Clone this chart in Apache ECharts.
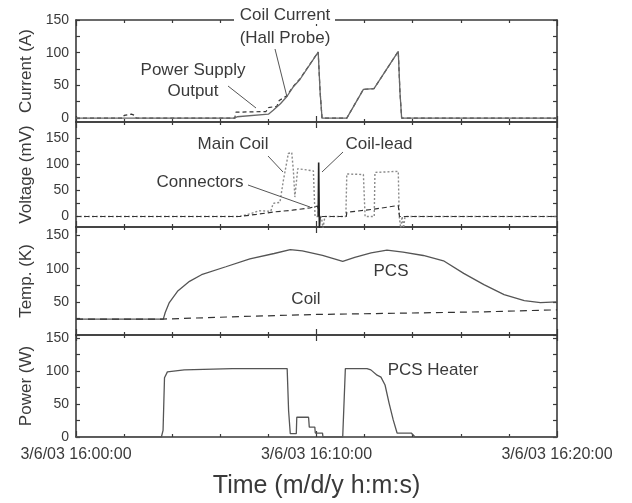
<!DOCTYPE html>
<html>
<head>
<meta charset="utf-8">
<script src="https://cdn.jsdelivr.net/npm/echarts@6/dist/echarts.min.js"></script>
<style>
  html, body { margin: 0; padding: 0; background: #fff; }
  #chart { width: 632px; height: 503px; }
</style>
</head>
<body>
<div id="chart"></div>
<script>
// minutes after 3/6/03 16:00:00
const xTicks = [0, 10, 20];

// Current panel (A)
const currT = [0, 6.6, 6.7, 8.0, 8.2, 8.5, 8.77, 9.02, 9.31, 10.07, 10.15, 10.23, 11.26, 11.95, 12.39, 13.40, 13.47, 13.54, 20];
const coilCurrent = [0, 0, 2, 6, 12, 22, 33, 47, 59, 101, 40, 0, 0, 44, 45, 102, 40, 0, 0];
const psT = [0, 1.95, 2.0, 2.3, 2.45, 2.5, 6.6, 6.65, 7.9, 8.0, 8.35, 8.45, 8.77, 9.02, 9.31, 10.07, 10.15, 10.23, 11.26, 11.95, 12.39, 13.40, 13.47, 13.54, 20];
const psCurrent = [0, 0, 4, 6, 4, 0, 0, 9, 10, 16, 18, 27, 34, 48, 60, 101, 40, 0, 0, 44, 45, 102, 40, 0, 0];

// Voltage panel (mV)
const mainT = [0, 6.8, 7.3, 7.6, 8.1, 8.2, 8.48, 8.62, 8.83, 8.97, 9.04, 9.10, 9.22, 9.87, 9.94, 10.2, 10.27, 10.35, 11.22, 11.26, 11.95, 12.02, 12.40, 12.43, 13.40, 13.44, 13.50, 13.56, 13.62, 13.68, 20];
const mainCoilV = [0, 0, 6, 11, 10, 25, 27, 68, 120, 122, 87, 37, 91, 87, 0, 0, -22, 0, 0, 81, 80, 0, 0, 84, 86, 0, -22, 0, -22, 0, 0];
const leadT = [10.07, 10.09, 10.12, 10.15];
const leadV = [0, 103, -22, 0];
const connT = [0, 6.8, 7.5, 8.3, 9.0, 9.73, 10.05, 10.1, 11.24, 11.26, 12.4, 13.40, 13.45, 20];
const connV = [0, 0, 4, 9, 12, 16.5, 20, 0, 0, 8, 14, 21, 0, 0];

// Temperature panel (K)
const pcsT = [0, 3.63, 3.71, 3.88, 4.22, 4.72, 5.22, 6.23, 7.23, 8.24, 8.91, 9.41, 10.25, 11.09, 11.59, 12.27, 12.93, 13.6, 14.44, 15.28, 16.12, 16.96, 17.8, 18.64, 19.31, 20];
const pcsTemp = [24, 24, 34, 49, 66, 81, 91, 103, 115, 123, 129, 127, 120, 111, 117, 124, 128, 125, 120, 112, 93, 76, 61, 52, 49, 50];
const coilTempT = [0, 3.6, 7.0, 10.0, 13.6, 17.0, 20];
const coilTemp = [24, 24, 28, 31, 33, 35, 38];

// Power panel (W)
const heatT = [0, 3.55, 3.62, 3.68, 3.8, 4.5, 6.5, 8.78, 8.84, 8.91, 9.16, 9.18, 9.67, 9.7, 9.93, 9.95, 10.25, 10.27, 11.09, 11.2, 12.1, 12.26, 12.52, 12.68, 12.85, 13.02, 13.19, 13.35, 13.94, 14.1, 20];
const heaterP = [0, 0, 10, 90, 99, 102, 104, 104, 40, 5, 5, 30, 30, 15, 15, 6, 6, 0, 0, 104, 104, 102, 94, 91, 79, 51, 26, 6, 6, 0, 0];

const yLabels = [0, 50, 100, 150];
const yLabelsTemp = [50, 100, 150];
const yTicks = [0, 25, 50, 75, 100, 125, 150];

const zip = (xs, ys) => xs.map((x, i) => [x, ys[i]]);

const FONT = '"Liberation Sans", Arial, sans-serif';
const INK = '#3a3a3a';

// panel layout: [top, height, yMin, yMax, name, labels]
const panels = [
  [20, 102, -6, 150, 'Current (A)', yLabels],
  [122, 105, -20, 180, 'Voltage (mV)', yLabels],
  [227, 108, 0, 163, 'Temp. (K)', yLabelsTemp],
  [335, 102, 0, 155, 'Power (W)', yLabels]
];

const grid = [], xAxis = [], yAxis = [];
panels.forEach((p, i) => {
  grid.push({ left: 76, right: 75, top: p[0], height: p[1] });
  const last = i === panels.length - 1;
  ['bottom', 'top'].forEach(pos => {
    xAxis.push({
      type: 'value', gridIndex: i, position: pos, min: 0, max: 20, interval: 10,
      axisLine: { show: true, onZero: false, lineStyle: { color: INK, width: 1.6 } },
      axisTick: { inside: true, length: 6, lineStyle: { color: INK, width: 1.2 } },
      minorTick: { show: true, splitNumber: 5, length: 3, lineStyle: { color: INK, width: 1.2 } },
      axisLabel: {
        show: last && pos === 'bottom', margin: 10, fontSize: 16, fontFamily: FONT, color: INK,
        formatter: v => xTicks.includes(v) ? '3/6/03 16:' + String(v).padStart(2, '0') + ':00' : ''
      },
      splitLine: { show: false },
      name: last && pos === 'bottom' ? 'Time (m/d/y h:m:s)' : '',
      nameLocation: 'middle', nameGap: 37,
      nameTextStyle: { fontSize: 25, fontFamily: FONT, color: INK }
    });
  });
  ['left', 'right'].forEach(pos => {
    yAxis.push({
      type: 'value', gridIndex: i, position: pos, min: p[2], max: p[3],
      axisLine: { show: true, onZero: false, lineStyle: { color: INK, width: 1.6 } },
      axisTick: { show: true, inside: true, length: 4, customValues: yTicks, lineStyle: { color: INK, width: 1.2 } },
      axisLabel: { show: pos === 'left', customValues: p[5], margin: 7, fontSize: 14, fontFamily: FONT, color: INK },
      splitLine: { show: false },
      name: pos === 'left' ? p[4] : '',
      nameLocation: 'middle', nameGap: 31, nameRotate: 90,
      nameTextStyle: { fontSize: 17, fontFamily: FONT, color: INK }
    });
  });
});

function line(data, i, color, width, type) {
  return {
    type: 'line', data, xAxisIndex: 2 * i, yAxisIndex: 2 * i,
    showSymbol: false, clip: true, animation: false,
    lineStyle: { color, width, type }
  };
}

const series = [
  line(zip(psT, psCurrent), 0, '#333', 1.2, [4, 3]),
  line(zip(currT, coilCurrent), 0, '#666', 1.3, 'solid'),
  line(zip(mainT, mainCoilV), 1, '#8a8a8a', 1.4, [2, 2]),
  line(zip(connT, connV), 1, '#333', 1.2, [5, 3]),
  line(zip(leadT, leadV), 1, '#222', 1.6, 'solid'),
  line(zip(pcsT, pcsTemp), 2, '#555', 1.3, 'solid'),
  line(zip(coilTempT, coilTemp), 2, '#333', 1.2, [7, 5]),
  line(zip(heatT, heaterP), 3, '#555', 1.3, 'solid')
];

function txt(text, x, y) {
  return { type: 'text', z: 101, style: { text, x, y, align: 'center', verticalAlign: 'middle', font: '17px ' + FONT, fill: INK } };
}
function lead(x1, y1, x2, y2) {
  return { type: 'line', z: 101, shape: { x1, y1, x2, y2 }, style: { stroke: '#555', lineWidth: 1 } };
}

const graphic = [
  { type: 'rect', z: 100, shape: { x: 234, y: 8, width: 101, height: 16 }, style: { fill: '#fff' } },
  txt('Coil Current', 285, 15),
  txt('(Hall Probe)', 285, 38),
  lead(275, 49, 287, 97),
  txt('Power Supply', 193, 70),
  txt('Output', 193, 91),
  lead(228, 86, 256, 108),
  txt('Main Coil', 233, 144),
  lead(268, 156, 283, 172),
  txt('Connectors', 200, 182),
  lead(248, 185, 310, 207),
  txt('Coil-lead', 379, 144),
  lead(343, 152, 322, 172),
  txt('PCS', 391, 271),
  txt('Coil', 306, 299),
  txt('PCS Heater', 433, 370)
];

const chart = echarts.init(document.getElementById('chart'), null, { renderer: 'canvas' });
chart.setOption({ animation: false, backgroundColor: '#fff', grid, xAxis, yAxis, series, graphic });
</script>
</body>
</html>
